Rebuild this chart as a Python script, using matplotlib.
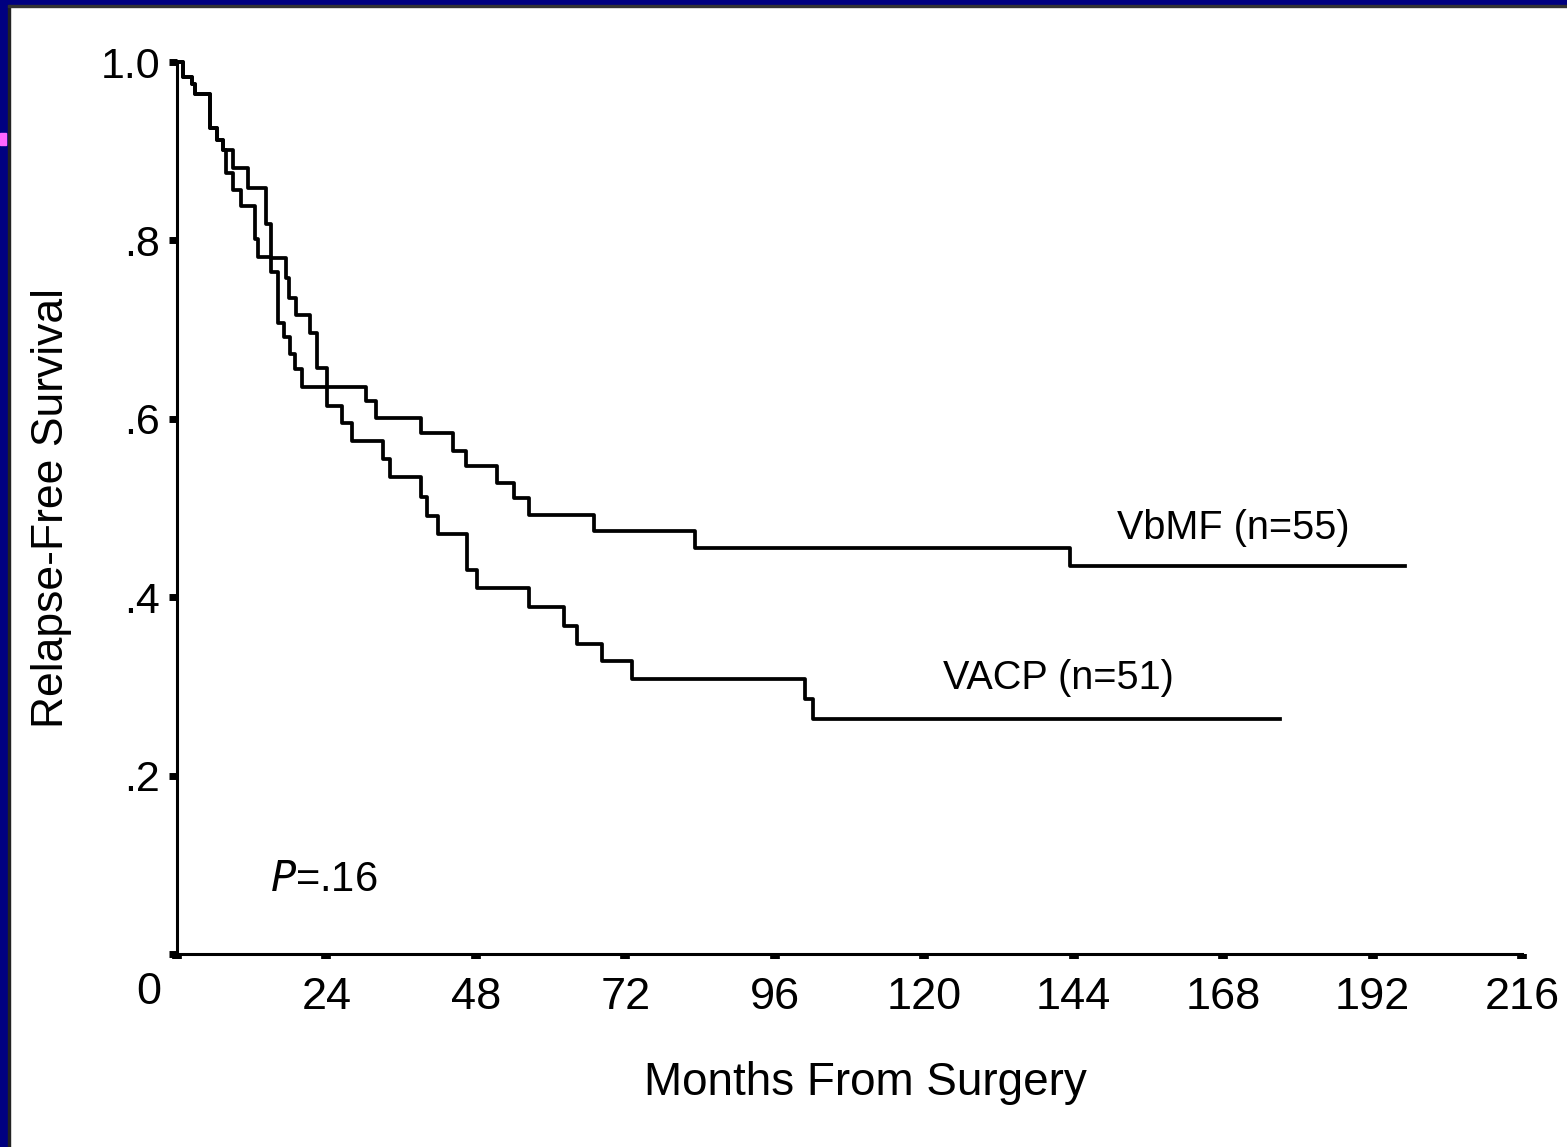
import matplotlib
matplotlib.use("Agg")
import matplotlib.pyplot as plt
from matplotlib.patches import Rectangle

plt.rcParams['font.family'] = ['Liberation Sans', 'DejaVu Sans']

# Kaplan-Meier step data (months from surgery, relapse-free survival)
vbmf_months = [0, 1.0, 2.4, 2.9, 5.3, 6.4, 7.4, 7.9, 9.0, 10.3, 12.5, 13.0, 15.1,
               16.2, 17.2, 18.1, 18.9, 20.1, 30.4, 32.0, 39.2, 44.3, 46.4, 51.4,
               54.1, 56.5, 67.0, 83.2, 143.4, 197.2]
vbmf_surv = [1.0, 0.983, 0.975, 0.964, 0.926, 0.913, 0.901, 0.876, 0.857, 0.839,
             0.802, 0.781, 0.765, 0.707, 0.692, 0.673, 0.656, 0.636, 0.620, 0.601,
             0.584, 0.564, 0.547, 0.528, 0.511, 0.492, 0.474, 0.455, 0.435, 0.435]

vacp_months = [0, 1.0, 2.4, 2.9, 5.3, 6.4, 7.4, 9.0, 11.4, 14.3, 15.1, 17.5, 18.0,
               19.1, 21.4, 22.5, 24.1, 26.5, 28.1, 33.1, 34.2, 39.2, 40.1, 41.9,
               46.6, 48.2, 56.5, 62.2, 64.2, 68.3, 73.1, 100.9, 102.1, 177.1]
vacp_surv = [1.0, 0.983, 0.975, 0.964, 0.926, 0.913, 0.901, 0.881, 0.859, 0.818,
             0.780, 0.758, 0.735, 0.716, 0.696, 0.657, 0.614, 0.595, 0.575, 0.555,
             0.535, 0.512, 0.491, 0.471, 0.430, 0.410, 0.389, 0.368, 0.348, 0.328,
             0.308, 0.286, 0.263, 0.263]

x_ticks = [0, 24, 48, 72, 96, 120, 144, 168, 192, 216]
x_labels = ["", "24", "48", "72", "96", "120", "144", "168", "192", "216"]
y_ticks = [0, 0.2, 0.4, 0.6, 0.8, 1.0]
y_labels = ["", ".2", ".4", ".6", ".8", "1.0"]

W, H = 1567, 1147
fig = plt.figure(figsize=(W / 100, H / 100), dpi=100)
fig.patch.set_facecolor("white")

# slide frame: navy bands with a thin dark edge
navy = "#000080"
fig.add_artist(Rectangle((0, 0), 8 / W, 1, transform=fig.transFigure, color=navy, zorder=0))
fig.add_artist(Rectangle((0, 1 - 5 / H), 1, 5 / H, transform=fig.transFigure, color=navy, zorder=0))
fig.add_artist(Rectangle((8 / W, 0), 1.5 / W, 1 - 5 / H, transform=fig.transFigure, color="#222222", zorder=0))
fig.add_artist(Rectangle((8 / W, 1 - 7 / H), 1 - 8 / W, 2 / H, transform=fig.transFigure, color="#333333", zorder=0))
fig.add_artist(Rectangle((0, 1 - 145 / H), 6 / W, 12 / H, transform=fig.transFigure, color="#ff66ff", zorder=1))

left_px, right_px, bottom_px, top_px = 177, 1522, 954, 62
ax = fig.add_axes([left_px / W, (H - bottom_px) / H, (right_px - left_px) / W,
                   (bottom_px - top_px) / H])
ax.set_xlim(0, 216)
ax.set_ylim(0, 1.0)

lw = 2.7
ax.step(vacp_months, vacp_surv, where="post", color="black", lw=lw, clip_on=False)
ax.step(vbmf_months, vbmf_surv, where="post", color="black", lw=lw, clip_on=False)

for side in ("top", "right"):
    ax.spines[side].set_visible(False)
for side in ("left", "bottom"):
    ax.spines[side].set_linewidth(2.2)

ax.set_xticks(x_ticks)
ax.set_xticklabels(x_labels, fontsize=32.5)
ax.set_yticks(y_ticks)
ax.set_yticklabels(y_labels, fontsize=31)
ax.tick_params(axis="x", direction="out", length=3.5, width=7, pad=13)
ax.tick_params(axis="y", direction="out", length=6, width=5, pad=6)

ax.text(-4.6, -0.02, "0", fontsize=32.5, ha="center", va="top")

ax.set_xlabel("Months From Surgery", fontsize=33)
ax.xaxis.set_label_coords(0.5115, -0.145)
ax.xaxis.label.set_va("center")
ax.set_ylabel("Relapse-Free Survival", fontsize=32, labelpad=21)

ax.text(151, 0.478, "VbMF (n=55)", fontsize=28.5, ha="left", va="center")
ax.text(123, 0.309, "VACP (n=51)", fontsize=28.5, ha="left", va="center")
ax.text(15, 0.083, r"$\it{P}$=.16", fontsize=30, ha="left", va="center")

fig.savefig("out.png", dpi=100, facecolor=fig.get_facecolor())
